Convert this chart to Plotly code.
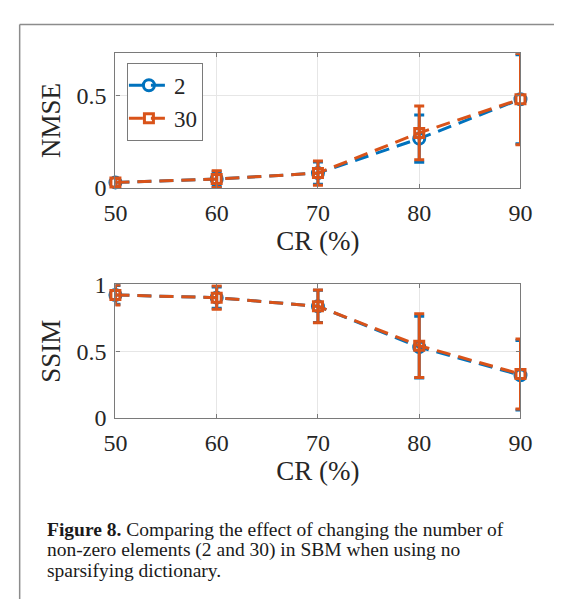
import plotly.graph_objects as go

# ---- data ----
cr = [50, 60, 70, 80, 90]

nmse_2 = [0.030, 0.048, 0.080, 0.266, 0.479]
nmse_2_err = [0.020, 0.040, 0.060, 0.128, 0.240]
nmse_30 = [0.030, 0.048, 0.080, 0.297, 0.479]
nmse_30_err = [0.020, 0.045, 0.065, 0.145, 0.246]

ssim_2 = [0.920, 0.900, 0.835, 0.530, 0.320]
ssim_2_err = [0.070, 0.080, 0.120, 0.230, 0.260]
ssim_30 = [0.920, 0.900, 0.835, 0.541, 0.329]
ssim_30_err = [0.075, 0.087, 0.122, 0.238, 0.262]

series_names = ["2", "30"]
x_ticks = [50, 60, 70, 80, 90]
nmse_ticks = [0, 0.5]
ssim_ticks = [0, 0.5, 1]

caption_lines = [
    "<b>Figure 8.</b> Comparing the effect of changing the number of",
    "non-zero elements (2 and 30) in SBM when using no",
    "sparsifying dictionary.",
]

BLUE = "#0072BD"
ORANGE = "#D95319"
FONT = "Liberation Serif"
W, H = 566, 612

fig = go.Figure()

def add_series(x, y, err, color, symbol, msize, name, xa, ya, show):
    fig.add_trace(go.Scatter(
        x=x, y=y, name=name, xaxis=xa, yaxis=ya, showlegend=show,
        mode="lines+markers",
        line=dict(color=color, width=3, dash="14px,8px"),
        marker=dict(symbol=symbol, size=msize, color=color,
                    line=dict(color=color, width=3)),
        error_y=dict(type="data", array=err, visible=True,
                     color=color, thickness=3, width=5),
        cliponaxis=False,
    ))

add_series(cr, nmse_2, nmse_2_err, BLUE, "circle-open", 11, series_names[0], "x", "y", True)
add_series(cr, nmse_30, nmse_30_err, ORANGE, "square-open", 9, series_names[1], "x", "y", True)
add_series(cr, ssim_2, ssim_2_err, BLUE, "circle-open", 11, series_names[0], "x2", "y2", False)
add_series(cr, ssim_30, ssim_30_err, ORANGE, "square-open", 9, series_names[1], "x2", "y2", False)

xdom = [108 / W, 531 / W]
top_dom = [(H - 182.7) / H, (H - 42) / H]
bot_dom = [(H - 423) / H, (H - 283.3) / H]

axis_common = dict(
    showline=True, linecolor="#7a7a7a", linewidth=1.2, mirror="ticks",
    ticks="inside", ticklen=4, tickcolor="#7a7a7a",
    showgrid=True, gridcolor="#e6e6e6", gridwidth=1,
    zeroline=False,
    tickfont=dict(family=FONT, size=24, color="#262626"),
)

fig.update_layout(
    width=W, height=H,
    margin=dict(l=0, r=0, t=0, b=0),
    paper_bgcolor="white", plot_bgcolor="white",
    font=dict(family=FONT, color="#262626"),
    xaxis=dict(domain=xdom, anchor="y", range=[50, 90], tickvals=x_ticks,
               title=dict(text="CR (%)", font=dict(family=FONT, size=27), standoff=6),
               ticklabelstandoff=3, **axis_common),
    yaxis=dict(domain=top_dom, anchor="x", range=[0, 0.727], tickvals=nmse_ticks,
               ticktext=["0", "0.5"],
               title=dict(text="NMSE", font=dict(family=FONT, size=27), standoff=8),
               ticklabelstandoff=3, **axis_common),
    xaxis2=dict(domain=xdom, anchor="y2", range=[50, 90], tickvals=x_ticks,
                title=dict(text="CR (%)", font=dict(family=FONT, size=27), standoff=6),
                ticklabelstandoff=3, **axis_common),
    yaxis2=dict(domain=bot_dom, anchor="x2", range=[0, 1], tickvals=ssim_ticks,
                ticktext=["0", "0.5", "1"],
                title=dict(text="SSIM", font=dict(family=FONT, size=27), standoff=8),
                ticklabelstandoff=3, **axis_common),
    legend=dict(x=120 / W, y=1 - 52 / H, xanchor="left", yanchor="top",
                bordercolor="#7a7a7a", borderwidth=1, bgcolor="white",
                font=dict(family=FONT, size=23, color="#262626"),
                itemwidth=40, tracegroupgap=0, indentation=-4),
)

# figure frame
fig.add_shape(type="line", xref="paper", yref="paper",
              x0=8 / W, x1=1.0, y0=1 - 12 / H, y1=1 - 12 / H,
              line=dict(color="#8c8c8c", width=1.5))
fig.add_shape(type="line", xref="paper", yref="paper",
              x0=8 / W, x1=8 / W, y0=0, y1=1 - 12 / H,
              line=dict(color="#8c8c8c", width=1.5))

# caption
for i, line in enumerate(caption_lines):
    fig.add_annotation(xref="paper", yref="paper", x=34 / W, y=1 - (539 + 21.5 * i) / H,
                       xanchor="left", yanchor="middle", showarrow=False, text=line,
                       font=dict(family=FONT, size=19.5, color="#1a1a1a"))

fig.write_html("out.html")
